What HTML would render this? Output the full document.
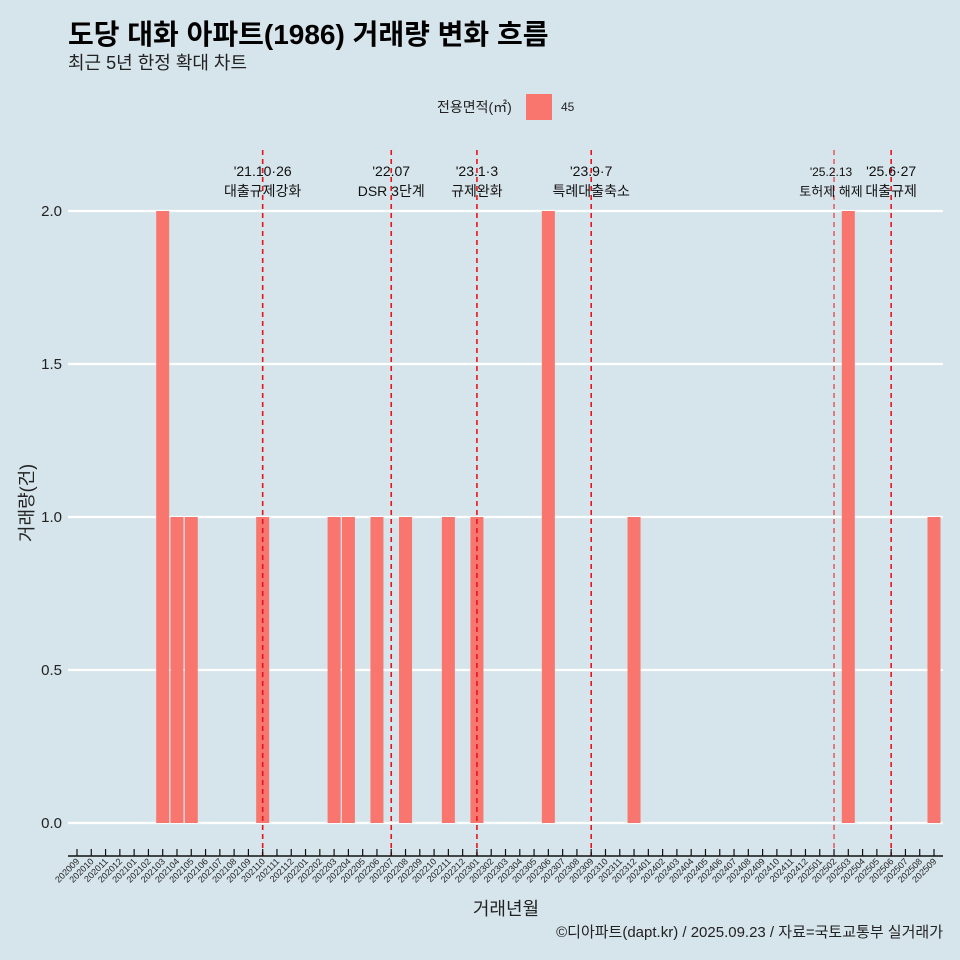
<!DOCTYPE html>
<html><head><meta charset="utf-8">
<style>
body{margin:0;background:#d6e4eb;}
svg{display:block;font-family:"Liberation Sans","Noto Sans CJK KR",sans-serif;}
</style></head>
<body>
<svg id="c" width="960" height="960" viewBox="0 0 960 960">
<rect width="960" height="960" fill="#d6e4eb"/>
<text x="68" y="44" font-size="28" font-weight="bold" fill="#000">도당 대화 아파트(1986) 거래량 변화 흐름</text>
<text x="68" y="69" font-size="18" fill="#222">최근 5년 한정 확대 차트</text>
<g>
<text x="437" y="112" font-size="14" fill="#222">전용면적(㎡)</text>
<rect x="526" y="94" width="26" height="26" fill="#f8766d"/>
<text x="561" y="111" font-size="12" fill="#222">45</text>
</g>
<g id="grid"></g><g id="bars"></g><g id="events"></g><g id="xaxis"></g>
<text x="33" y="503" font-size="18" fill="#222" transform="rotate(-90 33 503)" text-anchor="middle">거래량(건)</text>
<text x="506" y="915" font-size="18" fill="#222" text-anchor="middle">거래년월</text>
<text x="943" y="937" font-size="15" fill="#222" text-anchor="end">©디아파트(dapt.kr) / 2025.09.23 / 자료=국토교통부 실거래가</text>
</svg>
<script>
const months=[];
for(let y=2020,m=9;!(y===2025&&m>9);){months.push(''+y+(m<10?'0'+m:m));m++;if(m>12){m=1;y++;}}
const barMonths=['202103','202104','202105','202110','202203','202204','202206','202208','202211','202301','202306','202312','202503','202509'];
const barValues=[2,1,1,1,1,1,1,1,1,1,2,1,2,1];
const yTicks=[0,0.5,1,1.5,2];
const yTickLabels=['0.0','0.5','1.0','1.5','2.0'];
const eventMonths=['202110','202207','202301','202309','202502','202506'];
const eventDates=["'21.10·26","'22.07","'23.1·3","'23.9·7","'25.2.13","'25.6·27"];
const eventLabels=['대출규제강화','DSR 3단계','규제완화','특례대출축소','토허제 해제','대출규제'];
const NS='http://www.w3.org/2000/svg';
const X=i=>77+i*(857/60);
const Y=v=>823-v*306;
function mk(tag,attrs,parent,text){const e=document.createElementNS(NS,tag);for(const k in attrs)e.setAttribute(k,attrs[k]);if(text!=null)e.textContent=text;parent.appendChild(e);return e;}
const g=document.getElementById('grid'),b=document.getElementById('bars'),ev=document.getElementById('events'),xa=document.getElementById('xaxis');
yTicks.forEach((t,i)=>{
 const l=mk('line',{x1:68,x2:943,y1:Y(t),y2:Y(t),stroke:'#fff','stroke-width':2.2},g);
 
 
 const tx=mk('text',{x:62,y:Y(t)+5,'font-size':15,'text-anchor':'end',fill:'#222'},g,yTickLabels[i]);
 
 
});
barMonths.forEach((m,i)=>{
 const xi=months.indexOf(m);
 const r=mk('rect',{x:X(xi)-6.5,y:Y(barValues[i]),width:13,height:Y(0)-Y(barValues[i]),fill:'#f8766d'},b);
 
 
});
eventMonths.forEach((m,i)=>{
 const x=X(months.indexOf(m));const thin=m==='202502';
 const l=mk('line',{x1:x,x2:x,y1:150,y2:856,stroke:'#e8141b','stroke-width':thin?1:1.6,'stroke-dasharray':'5,4'},ev);
 
 
 const fs=thin?12:14;
 const t1=mk('text',{x:x-(thin?3:0),y:176,'font-size':fs,'text-anchor':'middle',fill:'#111'},ev,eventDates[i]);
 
 
 const t2=mk('text',{x:x-(thin?3:0),y:196,'font-size':thin?13:14,'text-anchor':'middle',fill:'#111'},ev,eventLabels[i]);
 
 
});
const ax=mk('line',{x1:68,x2:943,y1:856,y2:856,stroke:'#111','stroke-width':1.5},xa);


months.forEach((m,i)=>{
 const x=X(i);
 const tk=mk('line',{x1:x,x2:x,y1:849,y2:856,stroke:'#111','stroke-width':1.2},xa);
 
 
 const t=mk('text',{x:x+3,y:862,'font-size':9,'text-anchor':'end',fill:'#222',transform:`rotate(-45 ${x+3} 862)`},xa,m);
 
 
});
</script>
</body></html>
